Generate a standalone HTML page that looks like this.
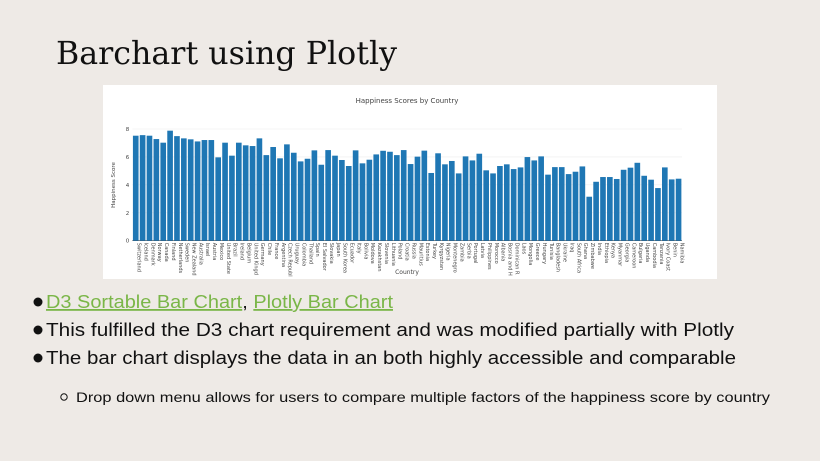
<!DOCTYPE html>
<html><head><meta charset="utf-8"><style>
html,body{margin:0;padding:0;background:#eeeae6;}
svg{display:block;}
</style></head><body>
<svg width="820" height="461" viewBox="0 0 820 461" xmlns="http://www.w3.org/2000/svg">
<rect width="820" height="461" fill="#eeeae6"/>
<text x="56" y="64" font-family="'DejaVu Serif','Liberation Serif',serif" font-size="32" fill="#111" textLength="341" lengthAdjust="spacingAndGlyphs">Barchart using Plotly</text>
<g>
<rect x="103" y="85" width="614" height="194" fill="#fff"/>
<text x="407" y="103" text-anchor="middle" font-family="'DejaVu Sans','Liberation Sans',sans-serif" font-size="7" fill="#444">Happiness Scores by Country</text>
<g id="grid"></g>
<g id="bars"></g>
<g id="xlabels"></g>
<g id="yticks"></g>
<text transform="translate(115,185) rotate(-90)" text-anchor="middle" font-family="'DejaVu Sans','Liberation Sans',sans-serif" font-size="5.5" fill="#444">Happiness Score</text>
<text x="407" y="274" text-anchor="middle" font-family="'DejaVu Sans','Liberation Sans',sans-serif" font-size="6" fill="#444">Country</text>
</g>
<g font-family="'Liberation Sans',sans-serif" font-size="18" fill="#111">
<circle cx="38" cy="302" r="4.5" fill="#111"/>
<text x="46" y="308" textLength="347" lengthAdjust="spacingAndGlyphs"><tspan fill="#7ab648" text-decoration="underline">D3 Sortable Bar Chart</tspan>, <tspan fill="#7ab648" text-decoration="underline">Plotly Bar Chart</tspan></text>
<circle cx="38" cy="330" r="4.5" fill="#111"/>
<text x="46" y="336" textLength="688" lengthAdjust="spacingAndGlyphs">This fulfilled the D3 chart requirement and was modified partially with Plotly</text>
<circle cx="38" cy="358" r="4.5" fill="#111"/>
<text x="46" y="364" textLength="690" lengthAdjust="spacingAndGlyphs">The bar chart displays the data in an both highly accessible and comparable</text>
<circle cx="64" cy="397" r="3.2" fill="none" stroke="#111" stroke-width="1"/>
<text x="76" y="402" font-size="14" textLength="694" lengthAdjust="spacingAndGlyphs">Drop down menu allows for users to compare multiple factors of the happiness score by country</text>
</g>
</svg>
<script>
const countries=["Switzerland","Iceland","Denmark","Norway","Canada","Finland","Netherlands","Sweden","New Zealand","Australia","Israel","Austria","Mexico","United States","Brazil","Ireland","Belgium","United Kingdom","Germany","Chile","France","Argentina","Czech Republic","Uruguay","Colombia","Thailand","Spain","El Salvador","Slovakia","Japan","South Korea","Ecuador","Italy","Bolivia","Moldova","Kazakhstan","Slovenia","Lithuania","Poland","Croatia","Russia","Mauritius","Estonia","Turkey","Kyrgyzstan","Nigeria","Montenegro","Zambia","Serbia","Portugal","Latvia","Philippines","Morocco","Albania","Bosnia and H","Dominican R","Laos","Mongolia","Greece","Hungary","Tunisia","Bangladesh","Ukraine","Iraq","South Africa","Ghana","Zimbabwe","India","Ethiopia","Kenya","Myanmar","Georgia","Cameroon","Bulgaria","Uganda","Cambodia","Tanzania","Ivory Coast","Benin","Namibia"];
const scores=[7.52,7.56,7.52,7.28,7.02,7.88,7.49,7.33,7.26,7.11,7.21,7.21,5.97,7.02,6.09,7.02,6.83,6.78,7.33,6.13,6.71,5.9,6.9,6.3,5.68,5.87,6.47,5.44,6.49,6.09,5.78,5.35,6.47,5.54,5.8,6.18,6.44,6.37,6.13,6.49,5.49,6.02,6.45,4.85,6.26,5.47,5.71,4.82,6.04,5.75,6.23,5.04,4.82,5.35,5.47,5.13,5.25,5.99,5.75,6.04,4.73,5.27,5.27,4.77,4.94,5.32,3.15,4.22,4.56,4.56,4.42,5.08,5.23,5.58,4.65,4.37,3.77,5.25,4.39,4.44];
const yTicks=[0,2,4,6,8];
const NS="http://www.w3.org/2000/svg";
const x0=132.3,x1=682,yBase=240.7,yTop=129;
const band=(x1-x0)/countries.length;
function xs(i){return x0+i*band;}
function ys(v){return yBase-(v/8)*(yBase-yTop);}
const grid=document.getElementById('grid'),bars=document.getElementById('bars'),xl=document.getElementById('xlabels'),yt=document.getElementById('yticks');
yTicks.forEach(t=>{
  const l=document.createElementNS(NS,'line');
  
  
  l.setAttribute('x1',x0);l.setAttribute('x2',x1);l.setAttribute('y1',ys(t));l.setAttribute('y2',ys(t));
  l.setAttribute('stroke',t===0?'#444':'#eee');l.setAttribute('stroke-width',t===0?0.6:0.6);
  grid.appendChild(l);
  const tx=document.createElementNS(NS,'text');
  
  
  tx.setAttribute('x',x0-3);tx.setAttribute('y',ys(t)+2);tx.setAttribute('text-anchor','end');
  tx.setAttribute('font-family',"'DejaVu Sans','Liberation Sans',sans-serif");tx.setAttribute('font-size','5.5');tx.setAttribute('fill','#444');
  tx.textContent=t;yt.appendChild(tx);
});
countries.forEach((c,i)=>{
  const r=document.createElementNS(NS,'rect');
  
  
  const w=band*0.82;
  r.setAttribute('x',xs(i)+(band-w)/2);r.setAttribute('width',w);
  r.setAttribute('y',ys(scores[i]));r.setAttribute('height',yBase-ys(scores[i]));
  r.setAttribute('fill','#1f77b4');
  bars.appendChild(r);
  const t=document.createElementNS(NS,'text');
  
  
  const cx=xs(i)+band/2+1.8;
  t.setAttribute('transform','translate('+cx+','+(yBase+2)+') rotate(90)');
  t.setAttribute('font-family',"'DejaVu Sans','Liberation Sans',sans-serif");t.setAttribute('font-size','5');t.setAttribute('fill','#444');
  t.textContent=c.length>12?c.slice(0,12):c;
  xl.appendChild(t);
});
</script>
</body></html>
